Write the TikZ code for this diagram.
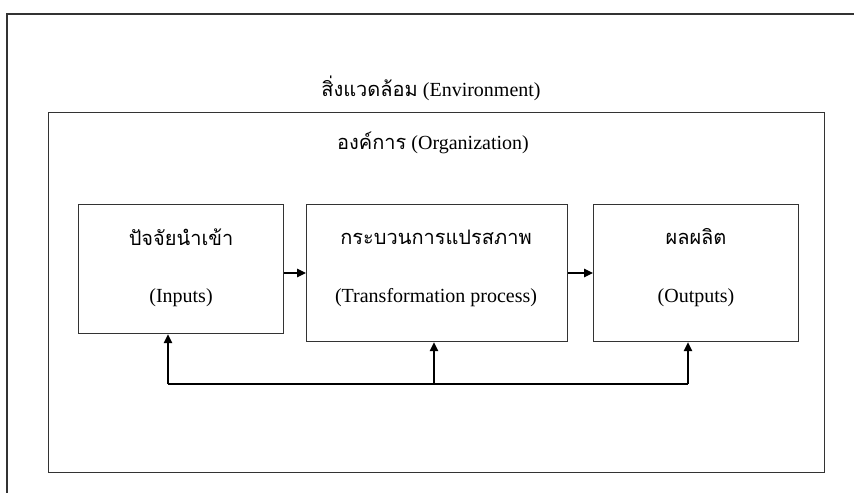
\documentclass[tikz,border=0pt]{standalone}
\usepackage{fontspec}
\setmainfont{Liberation Serif}
\newfontfamily\thaifont[Script=Thai]{Loma}
\usetikzlibrary{arrows.meta}
\definecolor{ln}{HTML}{333333}
\tikzset{
  boxnode/.style={draw=ln, line width=1.2pt, rectangle, inner sep=0pt, anchor=north west},
  txt/.style={font=\fontsize{20}{24}\selectfont, text=black, inner sep=0pt},
  thtxt/.style={font=\thaifont\fontsize{20}{24}\selectfont, text=black, inner sep=0pt},
  conn/.style={draw=black, line width=1.2pt, -{Triangle[length=9pt,width=8.5pt]}},
  plain/.style={draw=black, line width=1.2pt}
}
\begin{document}
\begin{tikzpicture}[x=1pt,y=-1pt]
\useasboundingbox (0,0) rectangle (854,493);
\fill[white] (0,0) rectangle (854,493);
% outer environment frame (cropped)
\coordinate (envTR) at (854,14);
\coordinate (envTL) at (7,14);
\coordinate (envBL) at (7,493);
\draw[draw=ln, line width=1.2pt] (envTR) -- (envTL) -- (envBL);
\node[txt] (envlabel) at (431,88) {{\thaifont\fontsize{20}{24}\selectfont สิ่งแวดล้อม} (Environment)};
% organization
\node[boxnode, minimum width=776pt, minimum height=360pt] (org) at (48,112) {};
\node[txt] (orglabel) at (433,143) {{\thaifont\fontsize{20}{24}\selectfont องค์การ} (Organization)};
% three boxes
\node[boxnode, minimum width=205pt, minimum height=129pt] (in) at (78,204) {};
\node[boxnode, minimum width=261pt, minimum height=137pt] (tr) at (306,204) {};
\node[boxnode, minimum width=205pt, minimum height=137pt] (out) at (593,204) {};
\node[thtxt] (inTh) at (181,237) {ปัจจัยนำเข้า};
\node[txt] (inEn) at (181,298) {(Inputs)};
\node[thtxt] (trTh) at (436,237) {กระบวนการแปรสภาพ};
\node[txt] (trEn) at (436,298) {(Transformation process)};
\node[thtxt] (outTh) at (696,237) {ผลผลิต};
\node[txt] (outEn) at (696,298) {(Outputs)};
% forward arrows
\draw[conn] (in.east |- 0,273) -- (tr.west |- 0,273);
\draw[conn] (tr.east |- 0,273) -- (out.west |- 0,273);
% feedback loop
\coordinate (fbL) at (168,384);
\coordinate (fbM) at (434,384);
\coordinate (fbR) at (688,384);
\draw[plain] (fbL) -- (fbR);
\draw[conn] (fbL) -- (fbL |- in.south);
\draw[conn] (fbM) -- (fbM |- tr.south);
\draw[conn] (fbR) -- (fbR |- out.south);
\end{tikzpicture}
\end{document}
